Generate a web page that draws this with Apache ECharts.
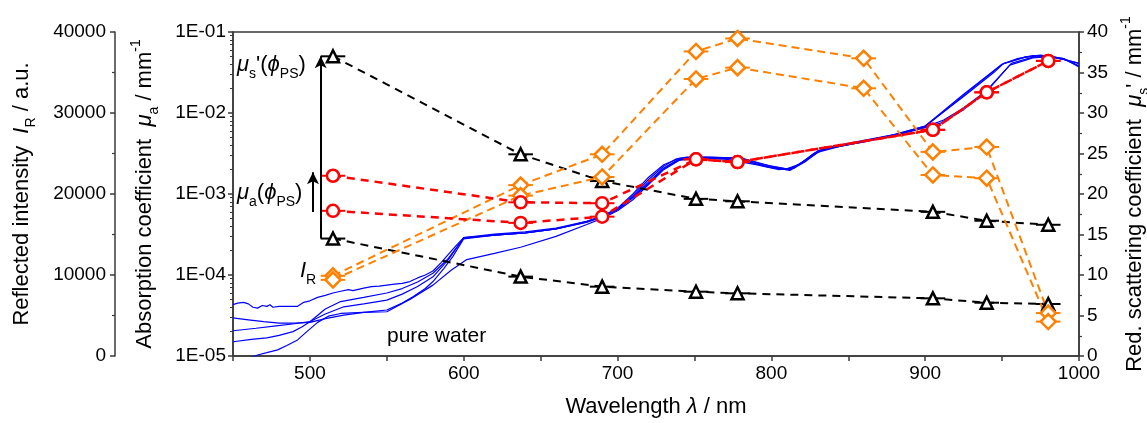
<!DOCTYPE html>
<html><head><meta charset="utf-8">
<script src="https://cdn.jsdelivr.net/npm/echarts@6/dist/echarts.min.js"></script>
<style>html,body{margin:0;padding:0;background:#fff}#c{width:1147px;height:423px}</style>
</head><body><div id="c"></div>
<script>
// ---- data ----
const xTicks = [500, 600, 700, 800, 900, 1000];
const lambdaMu = [515, 637, 690, 751, 778, 905, 940, 980];
const muAHigh = [1.68e-3, 7.9e-4, 7.7e-4, 2.68e-3, 2.48e-3, 6.2e-3, 1.8e-2, 4.4e-2];
const muALow  = [6.2e-4, 4.4e-4, 5.25e-4, 2.68e-3, 2.48e-3, 6.2e-3, 1.8e-2, 4.4e-2];
const lambdaMus = [515, 637, 690, 751, 778, 905, 940, 980];
const musHigh = [37.0, 24.9, 21.6, 19.4, 19.1, 17.8, 16.7, 16.2];
const musLow  = [14.5, 9.8, 8.56, 7.94, 7.74, 7.12, 6.58, 6.42];
const lambdaIR = [515, 637, 690, 751, 778, 860, 905, 940, 980];
const irHigh = [9900, 21100, 24900, 37600, 39200, 36750, 25200, 25800, 5300];
const irLow  = [9400, 19800, 22100, 34200, 35600, 33050, 22350, 21950, 4250];
const waterA = [[450,4.3e-5],[453,4.5e-5],[457,4.6e-5],[460,4.4e-5],[463,4.0e-5],[466,3.9e-5],[469,4.2e-5],[472,4.1e-5],[474,4.3e-5],[476,4.0e-5],[480,4.1e-5],[485,4.1e-5],[492,4.1e-5],[496,4.6e-5],[500,4.8e-5],[505,5.3e-5],[510,5.6e-5],[515,6.0e-5],[520,6.3e-5],[525,6.6e-5],[528,6.4e-5],[535,6.9e-5],[540,7.2e-5],[545,7.3e-5],[550,7.5e-5],[555,7.7e-5],[560,7.9e-5],[565,8.3e-5],[570,9.2e-5],[575,1.0e-4],[580,1.12e-4],[585,1.4e-4],[590,1.8e-4],[595,2.3e-4],[600,2.9e-4],[610,3.0e-4],[620,3.1e-4],[640,3.3e-4],[660,3.7e-4],[680,4.6e-4],[690,5.3e-4],[700,6.5e-4],[710,9.5e-4],[720,1.5e-3],[730,2.2e-3],[738,2.7e-3],[745,2.85e-3],[760,2.85e-3],[780,2.75e-3],[795,2.3e-3],[810,2.05e-3],[820,2.4e-3],[830,3.3e-3],[840,3.8e-3],[860,4.5e-3],[880,5.4e-3],[900,6.9e-3],[925,1.7e-2],[950,4.0e-2],[960,4.7e-2],[970,5.1e-2],[980,5.1e-2],[990,4.6e-2],[1000,3.8e-2]];
const waterB = [[450,2.95e-5],[460,2.8e-5],[470,2.65e-5],[480,2.55e-5],[490,2.55e-5],[500,2.6e-5],[510,2.9e-5],[522,3.2e-5],[535,3.45e-5],[550,3.7e-5],[560,4.5e-5],[567,5.4e-5],[575,6.8e-5],[580,8.3e-5],[587,1.2e-4],[593,1.7e-4],[600,2.8e-4],[620,3.1e-4],[640,3.3e-4],[660,3.7e-4],[680,4.5e-4],[690,5.2e-4],[700,6.4e-4],[710,9.0e-4],[720,1.35e-3],[730,2.05e-3],[740,2.65e-3],[750,2.8e-3],[775,2.75e-3],[795,2.25e-3],[812,1.95e-3],[822,2.5e-3],[832,3.5e-3],[845,3.9e-3],[860,4.4e-3],[880,5.3e-3],[900,6.6e-3],[910,7.5e-3],[925,1.1e-2],[940,1.85e-2],[956,4.1e-2],[970,4.9e-2],[980,5.0e-2],[990,4.6e-2],[1000,4.1e-2]];
const waterC = [[450,2.05e-5],[465,2.2e-5],[478,2.35e-5],[490,2.5e-5],[500,2.65e-5],[510,3.3e-5],[522,4.05e-5],[535,4.4e-5],[550,4.9e-5],[560,5.8e-5],[570,7.2e-5],[580,9.5e-5],[590,1.55e-4],[600,2.9e-4],[620,3.2e-4],[640,3.4e-4],[660,3.8e-4],[680,4.6e-4],[690,5.3e-4],[700,6.7e-4],[710,1.0e-3],[720,1.6e-3],[730,2.3e-3],[740,2.75e-3],[750,2.85e-3],[780,2.8e-3],[800,2.2e-3],[812,2.0e-3],[822,2.6e-3],[835,3.7e-3],[860,4.6e-3],[880,5.4e-3],[900,6.9e-3],[925,1.6e-2],[945,3.2e-2],[951,4.1e-2],[965,4.9e-2],[975,5.2e-2],[990,4.7e-2],[1000,3.7e-2]];
const waterD = [[450,1.5e-5],[462,1.6e-5],[472,1.67e-5],[480,1.8e-5],[489,2.0e-5],[495,2.3e-5],[500,2.65e-5],[510,3.8e-5],[520,4.7e-5],[535,5.3e-5],[550,6.0e-5],[560,6.8e-5],[570,8.2e-5],[580,1.05e-4],[590,1.6e-4],[600,2.85e-4],[620,3.1e-4],[640,3.3e-4],[660,3.7e-4],[680,4.5e-4],[690,5.2e-4],[700,6.5e-4],[710,9.2e-4],[720,1.4e-3],[730,2.1e-3],[740,2.7e-3],[752,2.8e-3],[778,2.7e-3],[798,2.15e-3],[810,2.0e-3],[818,2.3e-3],[830,3.4e-3],[845,3.9e-3],[860,4.5e-3],[880,5.3e-3],[900,6.7e-3],[912,8.2e-3],[925,1.15e-2],[940,1.9e-2],[955,3.9e-2],[970,4.8e-2],[980,4.95e-2],[990,4.6e-2],[1000,4.1e-2]];
const waterE = [[450,8.0e-6],[458,9.0e-6],[466,1.03e-5],[472,1.1e-5],[479,1.19e-5],[485,1.35e-5],[492,1.58e-5],[498,2.0e-5],[505,2.6e-5],[512,3.1e-5],[520,3.35e-5],[535,3.45e-5],[550,3.52e-5],[565,5.0e-5],[580,7.5e-5],[592,1.15e-4],[602,1.55e-4],[620,1.85e-4],[637,2.2e-4],[660,3.0e-4],[680,4.2e-4],[690,5.0e-4],[700,6.2e-4],[710,8.5e-4],[720,1.3e-3],[730,2.0e-3],[740,2.6e-3],[750,2.75e-3],[770,2.7e-3],[790,2.3e-3],[805,2.0e-3],[815,2.1e-3],[828,3.2e-3],[845,3.9e-3],[860,4.4e-3],[880,5.3e-3],[900,6.8e-3],[925,1.65e-2],[950,4.0e-2],[965,4.9e-2],[978,5.1e-2],[990,4.7e-2],[1000,3.8e-2]];

// ---- styling ----
const FONT = '"Liberation Sans", Arial, sans-serif';
const AX = '#3a3a3a';
const RED = '#ff0000', ORANGE = '#ff8000', BLACK = '#000000', BLUE = '#0000ff';
const pair = (xs, ys) => xs.map((x, i) => [x, ys[i]]);
function rich(fs) {
  const sub = Math.round(fs * 0.64);
  return {
    n: {fontSize: fs, fontFamily: FONT, color: '#000', lineHeight: fs + 10, verticalAlign: 'middle'},
    i: {fontSize: fs, fontFamily: FONT, color: '#000', fontStyle: 'italic', lineHeight: fs + 10, verticalAlign: 'middle'},
    s: {fontSize: sub, fontFamily: FONT, color: '#000', lineHeight: sub, verticalAlign: 'bottom'},
    p: {fontSize: sub, fontFamily: FONT, color: '#000', lineHeight: sub, verticalAlign: 'top'}
  };
}
const RT = rich(22);

function errBars(xs, ys, yIdx, color) {
  return {
    type: 'custom', xAxisIndex: 0, yAxisIndex: yIdx, z: 3, silent: true,
    data: pair(xs, ys),
    renderItem: function (params, api) {
      const a = api.coord([api.value(0) - 8, api.value(1)]);
      const b = api.coord([api.value(0) + 8, api.value(1)]);
      return {type: 'line', shape: {x1: a[0], y1: a[1], x2: b[0], y2: b[1]},
        style: {stroke: color, lineWidth: 2}};
    }
  };
}
function markSeries(xs, ys, yIdx, color, symbol, size, dash, width, extra) {
  return Object.assign({
    type: 'line', yAxisIndex: yIdx, z: 4, data: pair(xs, ys),
    symbol: symbol, symbolSize: size, showSymbol: true,
    itemStyle: {color: '#fff', borderColor: color, borderWidth: 2.5},
    lineStyle: {color: color, width: width, type: dash}
  }, extra || {});
}
function water(d) {
  return {type: 'line', yAxisIndex: 0, z: 2, data: d, symbol: 'none', showSymbol: false,
    lineStyle: {color: BLUE, width: 1.2}, clip: true};
}
const tickLabel = {fontFamily: FONT, fontSize: 19, color: '#000'};

const chart = echarts.init(document.getElementById('c'));
chart.setOption({
  animation: false,
  grid: {left: 233, right: 68, top: 32, bottom: 67, containLabel: false, outerBoundsMode: 'none',
    show: true, borderColor: AX, borderWidth: 1.5, backgroundColor: 'transparent'},
  xAxis: {
    type: 'value', min: 450, max: 1000, interval: 50,
    name: '{n|Wavelength }{i|λ}{n| / nm}', nameLocation: 'middle', nameGap: 35,
    nameTextStyle: {rich: RT},
    axisLine: {lineStyle: {color: AX, width: 1.5}},
    axisTick: {inside: false, length: 5, lineStyle: {color: AX, width: 1.5}},
    splitLine: {show: false},
    axisLabel: Object.assign({margin: 8, formatter: v => (xTicks.indexOf(v) >= 0 ? String(v) : '')}, tickLabel)
  },
  yAxis: [
    {
      type: 'log', logBase: 10, min: 1e-5, max: 1e-1, position: 'left',
      name: '{n|Absorption coefficient  }{i|μ}{s|a}{n| / mm}{p|-1}', nameLocation: 'middle', nameGap: 72, nameRotate: 90,
      nameTextStyle: {rich: RT},
      axisLine: {show: true, lineStyle: {color: AX, width: 1.5}},
      axisTick: {length: 5, lineStyle: {color: AX, width: 1.5}},
      minorTick: {show: true, splitNumber: 9, length: 3, lineStyle: {color: AX, width: 1}},
      splitLine: {show: false}, minorSplitLine: {show: false},
      axisLabel: Object.assign({margin: 7,
        formatter: v => { const e = Math.round(Math.log10(v)); return '1E-0' + Math.abs(e); }}, tickLabel)
    },
    {
      type: 'value', min: 0, max: 40000, interval: 10000, position: 'left', offset: 118,
      name: '{n|Reflected intensity  }{i|I}{s|R}{n| / a.u.}', nameLocation: 'middle', nameGap: 77, nameRotate: 90,
      nameTextStyle: {rich: RT},
      axisLine: {show: true, lineStyle: {color: AX, width: 1.5}},
      axisTick: {length: 5, lineStyle: {color: AX, width: 1.5}},
      minorTick: {show: true, splitNumber: 2, length: 3, lineStyle: {color: AX, width: 1.2}},
      splitLine: {show: false},
      axisLabel: Object.assign({margin: 9, formatter: v => String(v)}, tickLabel)
    },
    {
      type: 'value', min: 0, max: 40, interval: 5, position: 'right',
      name: '{n|Red. scattering coefficient  }{i|μ}{s|s}{n|\' / mm}{p|-1}', nameLocation: 'middle', nameGap: 40, nameRotate: 90,
      nameTextStyle: {rich: RT},
      axisLine: {show: true, lineStyle: {color: AX, width: 1.5}},
      axisTick: {length: 5, lineStyle: {color: AX, width: 1.5}},
      minorTick: {show: true, splitNumber: 2, length: 3, lineStyle: {color: AX, width: 1.2}},
      splitLine: {show: false},
      axisLabel: Object.assign({margin: 8, formatter: v => String(v)}, tickLabel)
    }
  ],
  series: [
    water(waterA), water(waterB), water(waterC), water(waterD), water(waterE),
    errBars(lambdaMus, musHigh, 2, BLACK), errBars(lambdaMus, musLow, 2, BLACK),
    errBars(lambdaMu, muAHigh, 0, RED), errBars(lambdaMu, muALow, 0, RED),
    errBars(lambdaIR, irHigh, 1, ORANGE), errBars(lambdaIR, irLow, 1, ORANGE),
    markSeries(lambdaMus, musHigh, 2, BLACK, 'triangle', 12, [8, 6], 2, {
      markLine: {silent: true, symbol: ['none', 'arrow'], symbolSize: [9, 12],
        lineStyle: {color: BLACK, width: 2, type: 'solid'}, label: {show: false},
        data: [[{coord: [507, musLow[0]]}, {coord: [507, musHigh[0]]}]]}
    }),
    markSeries(lambdaMus, musLow, 2, BLACK, 'triangle', 12, [8, 6], 2),
    markSeries(lambdaIR, irHigh, 1, ORANGE, 'diamond', 15, [8, 5], 2),
    markSeries(lambdaIR, irLow, 1, ORANGE, 'diamond', 15, [8, 5], 2),
    markSeries(lambdaMu, muAHigh, 0, RED, 'circle', 12, [8, 6], 2.5, {
      markLine: {silent: true, symbol: ['none', 'arrow'], symbolSize: [9, 12],
        lineStyle: {color: BLACK, width: 2, type: 'solid'}, label: {show: false},
        data: [[{coord: [502, 6.0e-4]}, {coord: [502, 1.85e-3]}]]}
    }),
    markSeries(lambdaMu, muALow, 0, RED, 'circle', 12, [8, 6], 2.5)
  ],
  graphic: [
    {type: 'text', left: 237, top: 54, z: 10, style: {text: '{i|μ}{s|s}{n|\'(}{i|ϕ}{s|PS}{n|)}', rich: RT}},
    {type: 'text', left: 237, top: 182, z: 10, style: {text: '{i|μ}{s|a}{n|(}{i|ϕ}{s|PS}{n|)}', rich: RT}},
    {type: 'text', left: 300, top: 260, z: 10, style: {text: '{i|I}{s|R}', rich: RT}},
    {type: 'text', left: 387, top: 326, z: 10, style: {text: 'pure water', font: '21px "Liberation Sans", Arial, sans-serif', fill: '#000'}}
  ]
});
</script></body></html>
